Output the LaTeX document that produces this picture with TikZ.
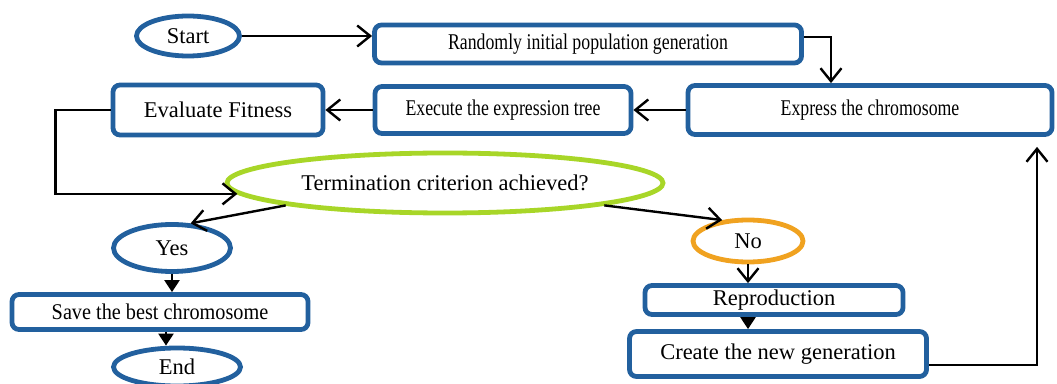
\documentclass[tikz,border=0pt]{standalone}
\usepackage{fontspec}
\setmainfont{Liberation Serif}
\usetikzlibrary{shapes.geometric,arrows.meta,calc}

\definecolor{boxblue}{RGB}{34,96,158}
\definecolor{testgreen}{RGB}{168,214,40}
\definecolor{noorange}{RGB}{240,162,32}

% narrow text in the top boxes
\newcommand{\narrowtext}[1]{\scalebox{0.79}[1]{#1}}

\tikzset{
	box/.style={draw=boxblue, line width=4.8pt, rounded corners=7pt, fill=white, inner sep=0pt,
		font=\fontsize{22.5}{27}\selectfont},
	oval/.style={ellipse, draw=boxblue, line width=4.8pt, fill=white, inner sep=0pt,
		font=\fontsize{22.5}{27}\selectfont},
	flow/.style={line width=2.4pt, -{Straight Barb[length=13pt,width=21pt,line width=2.4pt]}},
	fillflow/.style={line width=2.4pt, -{Triangle[length=12pt,width=15pt]}},
}

\begin{document}
\begin{tikzpicture}[x=1pt,y=1pt]
	\useasboundingbox (0,0) rectangle (1057,383);

	% top row
	\node[oval, minimum width=103pt, minimum height=40pt] (start) at (188,347) {Start};
	\node[box, minimum width=427pt, minimum height=38pt] (rand) at (588,339) {\narrowtext{Randomly initial population generation}};
	\node[box, minimum width=364pt, minimum height=49pt] (express) at (870,273) {\narrowtext{Express the chromosome}};
	\node[box, minimum width=256pt, minimum height=47pt] (execute) at (503,273) {\narrowtext{Execute the expression tree}};
	\node[box, minimum width=210pt, minimum height=50pt] (evaluate) at (218,273) {Evaluate Fitness};

	% test
	\node[oval, draw=testgreen, minimum width=436pt, minimum height=60pt] (term) at (445,200) {Termination criterion achieved?};

	% yes branch
	\node[oval, minimum width=117pt, minimum height=47pt] (yes) at (172,135) {Yes};
	\node[box, minimum width=296pt, minimum height=35pt] (save) at (160,71) {\scalebox{0.9}[1]{Save the best chromosome}};
	\node[oval, minimum width=127pt, minimum height=38pt] (stop) at (177,16) {End};

	% no branch
	\node[oval, draw=noorange, minimum width=110pt, minimum height=42pt] (no) at (748,142) {No};
	\node[box, minimum width=258pt, minimum height=29pt] (repro) at (774,83) {Reproduction};
	\node[box, minimum width=297pt, minimum height=45pt] (create) at (778,29) {Create the new generation};

	% connectors
	\draw[flow] (start.east) -- (start.east -| rand.west);
	\draw[flow] ($(rand.east)+(0,7)$) -| ($(express.north)+(-39,0)$);
	\draw[flow] (express.west) -- (execute.east);
	\draw[flow] (execute.west) -- (evaluate.east);
	\draw[flow] (evaluate.west) -- ++(-55,0) |- (term.183);
	\draw[flow] (term.188) -- (yes.53);
	\draw[flow] (term.352) -- (no.141);
	\draw[fillflow] (yes.south) -- (yes.south |- save.north);
	\draw[fillflow] ($(save.south)+(6,0)$) -- ($(stop.north)+(-11,0)$);
	\draw[flow] (no.south) -- (no.south |- repro.north);
	\draw[fillflow] (no.south |- repro.south) -- (no.south |- create.north);
	\draw[flow] ($(create.east)+(0,-11)$) -| ($(express.south)+(167,-10)$);
\end{tikzpicture}
\end{document}
